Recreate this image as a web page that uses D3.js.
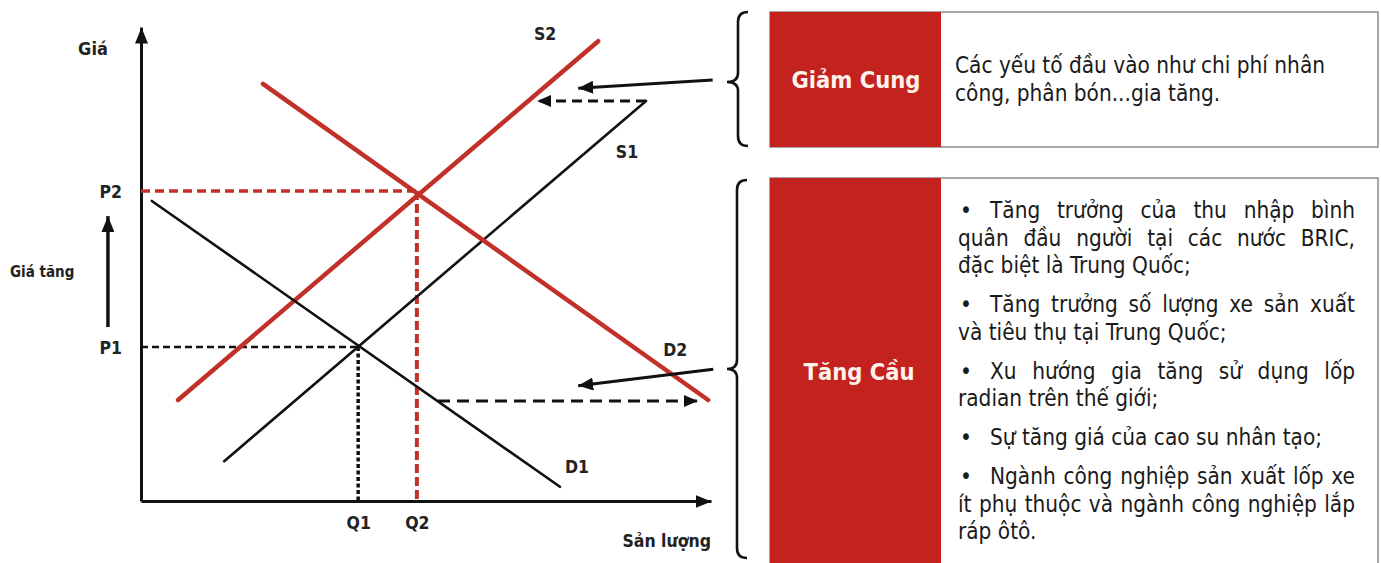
<!DOCTYPE html>
<html><head><meta charset="utf-8">
<script src="https://cdn.jsdelivr.net/npm/d3@7"></script>
<style>body{margin:0;background:#fff} svg{display:block}</style>
</head><body><svg id="c" width="1381" height="563"></svg>
<script>
// ---------- data ----------
const priceTicks = ["P1", "P2"];
const quantityTicks = ["Q1", "Q2"];
const equilibriumQ = [38.1, 48.4];
const equilibriumP = [32.5, 65.4];
const supply1 = [[14.6, 8.4], [88.6, 84.4]];
const supply2 = [[6.5, 21.3], [80.2, 97.0]];
const demand1 = [[1.9, 63.3], [73.5, 3.0]];
const demand2 = [[21.4, 88.0], [99.5, 21.3]];
const curveLabels = ["S1", "S2", "D1", "D2"];
const supplyShift = [[88.6, 84.4], [69.5, 84.4]];
const demandShift = [[52.1, 21.1], [97.7, 21.1]];
const supplyPointer = [[100.3, 88.8], [76.7, 87.1]];
const demandPointer = [[100.4, 27.8], [76.7, 24.3]];
const priceRise = [[-5.8, 36.7], [-5.8, 60.1]];
const axisTitles = ["Giá", "Sản lượng", "Giá tăng"];
const boxTitles = ["Giảm Cung", "Tăng Cầu"];
const supplyReasons = ["Các yếu tố đầu vào như chi phí nhân", "công, phân bón...gia tăng."];
const demandReasons = [
  ["Tăng trưởng của thu nhập bình", "quân đầu người tại các nước BRIC,", "đặc biệt là Trung Quốc;"],
  ["Tăng trưởng số lượng xe sản xuất", "và tiêu thụ tại Trung Quốc;"],
  ["Xu hướng gia tăng sử dụng lốp", "radian trên thế giới;"],
  ["Sự tăng giá của cao su nhân tạo;"],
  ["Ngành công nghiệp sản xuất lốp xe", "ít phụ thuộc và ngành công nghiệp lắp", "ráp ôtô."]
];

// ---------- styles ----------
const RED_LINE = "#c2302a", RED_BOX = "#c3221e", INK = "#111";
const LABEL_FONT = "'DejaVu Sans Condensed', 'DejaVu Sans', sans-serif";
const BODY_FONT = "'DejaVu Sans Condensed', 'DejaVu Sans', sans-serif";
const LABEL_SIZE = 17.5;

const svg = d3.select("#c");
const x = d3.scaleLinear().domain([0, 100]).range([141, 711]);
const y = d3.scaleLinear().domain([0, 100]).range([501, 27]);

// markers
const defs = svg.append("defs");
function marker(id, len, wid) {
  defs.append("marker").attr("id", id)
    .attr("markerUnits", "userSpaceOnUse")
    .attr("viewBox", `0 0 ${len} ${wid}`)
    .attr("markerWidth", len).attr("markerHeight", wid)
    .attr("refX", len).attr("refY", wid / 2).attr("orient", "auto")
    .append("path").attr("d", `M0,0L${len},${wid / 2}L0,${wid}Z`).attr("fill", INK);
}
marker("axisHead", 16, 13);
marker("arrHead", 15, 13);
marker("smallHead", 14, 12);

const line = d3.line().x(d => x(d[0])).y(d => y(d[1]));
const chart = svg.append("g");

// axes
const xAxis = d3.axisBottom(x).tickValues(equilibriumQ).tickFormat((d, i) => quantityTicks[i])
  .tickSize(0).tickSizeOuter(0).tickPadding(16);
const yAxis = d3.axisLeft(y).tickValues(equilibriumP).tickFormat((d, i) => priceTicks[i])
  .tickSize(0).tickSizeOuter(0).tickPadding(19);
const gx = chart.append("g").attr("transform", `translate(0,${y(0)})`).call(xAxis);
const gy = chart.append("g").attr("transform", `translate(${x(0)},0)`).call(yAxis);
[gx, gy].forEach(g => {
  g.select(".domain").attr("stroke", INK).attr("stroke-width", 3).attr("marker-end", "url(#axisHead)");
  g.selectAll("text").attr("font-family", LABEL_FONT).attr("font-weight", "bold")
    .attr("font-size", LABEL_SIZE).attr("fill", "#222");
});
gy.selectAll("text").attr("dy", "0.36em");

// guide lines (equilibria)
chart.append("path").attr("d", line([[0, equilibriumP[0]], [equilibriumQ[0], equilibriumP[0]]]))
  .attr("stroke", INK).attr("stroke-width", 2.5).attr("stroke-dasharray", "7,4").attr("fill", "none");
chart.append("path").attr("d", line([[equilibriumQ[0], equilibriumP[0]], [equilibriumQ[0], 0]]))
  .attr("stroke", INK).attr("stroke-width", 3.5).attr("stroke-dasharray", "4,2.5").attr("fill", "none");
chart.append("path").attr("d", line([[0, equilibriumP[1]], [equilibriumQ[1], equilibriumP[1]]]))
  .attr("stroke", RED_LINE).attr("stroke-width", 3.5).attr("stroke-dasharray", "9,5").attr("fill", "none");
chart.append("path").attr("d", line([[equilibriumQ[1], equilibriumP[1]], [equilibriumQ[1], 0]]))
  .attr("stroke", RED_LINE).attr("stroke-width", 4).attr("stroke-dasharray", "9,4").attr("fill", "none");

// curves
const curves = [supply1, supply2, demand1, demand2];
const curveColor = [INK, RED_LINE, INK, RED_LINE];
const curveWidth = [2.6, 4.5, 2.6, 4.5];
curves.forEach((c, i) => {
  chart.append("path").attr("d", line(c)).attr("stroke", curveColor[i])
    .attr("stroke-width", curveWidth[i]).attr("fill", "none").attr("stroke-linecap", "round");
});
const labelOffset = [[-19, 57], [-53, -1], [17, -14], [-33, -44]];
curves.forEach((c, i) => {
  const e = c[1];
  chart.append("text").attr("x", x(e[0]) + labelOffset[i][0]).attr("y", y(e[1]) + labelOffset[i][1])
    .attr("text-anchor", "middle").attr("font-family", LABEL_FONT).attr("font-weight", "bold")
    .attr("font-size", LABEL_SIZE).attr("fill", "#222").text(curveLabels[i]);
});

// shift arrows
chart.append("path").attr("d", line(supplyShift)).attr("stroke", INK).attr("stroke-width", 3)
  .attr("stroke-dasharray", "10,6").attr("fill", "none").attr("marker-end", "url(#smallHead)");
chart.append("path").attr("d", line(demandShift)).attr("stroke", INK).attr("stroke-width", 3)
  .attr("stroke-dasharray", "12,7").attr("fill", "none").attr("marker-end", "url(#smallHead)");
chart.append("path").attr("d", line(supplyPointer)).attr("stroke", INK).attr("stroke-width", 3)
  .attr("fill", "none").attr("marker-end", "url(#arrHead)");
chart.append("path").attr("d", line(demandPointer)).attr("stroke", INK).attr("stroke-width", 3)
  .attr("fill", "none").attr("marker-end", "url(#arrHead)");
chart.append("path").attr("d", line(priceRise)).attr("stroke", INK).attr("stroke-width", 3.5)
  .attr("fill", "none").attr("marker-end", "url(#axisHead)");

// axis titles
chart.append("text").attr("x", 93).attr("y", 55).attr("text-anchor", "middle")
  .attr("font-family", LABEL_FONT).attr("font-weight", "bold").attr("font-size", 18).attr("fill", "#222").text(axisTitles[0]);
chart.append("text").attr("x", x(100)).attr("y", 547).attr("text-anchor", "end")
  .attr("font-family", LABEL_FONT).attr("font-weight", "bold").attr("font-size", LABEL_SIZE).attr("fill", "#222").text(axisTitles[1]);
chart.append("text").attr("x", 10).attr("y", 277).attr("text-anchor", "start")
  .attr("font-family", LABEL_FONT).attr("font-weight", "bold").attr("font-size", 15).attr("fill", "#222").text(axisTitles[2]);

// ---------- right side panels ----------
function brace(xb, yTop, yBot, yTip, xTip, xEnd) {
  return `M${xEnd},${yTop} Q${xb},${yTop} ${xb},${yTop + 10} L${xb},${yTip - 9} Q${xb},${yTip} ${xTip},${yTip}` +
    ` Q${xb},${yTip} ${xb},${yTip + 9} L${xb},${yBot - 10} Q${xb},${yBot} ${xEnd},${yBot}`;
}
const panels = svg.append("g");
panels.append("path").attr("d", brace(738, 12, 146, 82, 727, 748)).attr("stroke", INK)
  .attr("stroke-width", 2.6).attr("fill", "none");
panels.append("path").attr("d", brace(737, 180, 558, 369, 727, 747)).attr("stroke", INK)
  .attr("stroke-width", 2.6).attr("fill", "none");

const boxes = [{ y: 12, h: 135, ty: 88, tx: 856 }, { y: 178, h: 400, ty: 380, tx: 859 }];
boxes.forEach((b, i) => {
  panels.append("rect").attr("x", 770).attr("y", b.y).attr("width", 608).attr("height", b.h)
    .attr("fill", "#fff").attr("stroke", "#8c8c8c").attr("stroke-width", 1.5);
  panels.append("rect").attr("x", 770).attr("y", b.y).attr("width", 171).attr("height", b.h)
    .attr("fill", RED_BOX);
  panels.append("text").attr("x", b.tx).attr("y", b.ty).attr("text-anchor", "middle")
    .attr("font-family", LABEL_FONT).attr("font-weight", "bold").attr("font-size", 23.5)
    .attr("fill", "#fdf3ea").text(boxTitles[i]);
});

const BODY_SIZE = 22.4;
supplyReasons.forEach((t, i) => {
  panels.append("text").attr("x", 955).attr("y", 73 + i * 28).attr("font-family", BODY_FONT)
    .attr("font-size", BODY_SIZE).attr("fill", "#1a1a1a").text(t);
});

// measure helper
const meas = svg.append("text").attr("font-family", BODY_FONT).attr("font-size", BODY_SIZE).attr("opacity", 0);
function wlen(s) { meas.text(s); return meas.node().getComputedTextLength(); }

const RIGHT = 1355, LEFT = 958, BULLET_X = 960, FIRST_X = 990;
let base = 218;
demandReasons.forEach((para, pi) => {
  para.forEach((ln, li) => {
    const startX = li === 0 ? FIRST_X : LEFT;
    const justify = li < para.length - 1;
    if (li === 0) {
      panels.append("text").attr("x", BULLET_X).attr("y", base).attr("font-family", BODY_FONT)
        .attr("font-size", BODY_SIZE).attr("fill", "#1a1a1a").text("•");
    }
    const t = panels.append("text").attr("y", base).attr("font-family", BODY_FONT)
      .attr("font-size", BODY_SIZE).attr("fill", "#1a1a1a");
    if (justify) {
      const words = ln.split(" ");
      const widths = words.map(wlen);
      const total = d3.sum(widths);
      const gap = (RIGHT - startX - total) / (words.length - 1);
      let cx = startX;
      words.forEach((w, wi) => {
        t.append("tspan").attr("x", cx).text(w);
        cx += widths[wi] + gap;
      });
    } else {
      t.attr("x", startX).text(ln);
    }
    base += 27.5;
  });
  base += 11.5;
});
meas.remove();
</script></body></html>
